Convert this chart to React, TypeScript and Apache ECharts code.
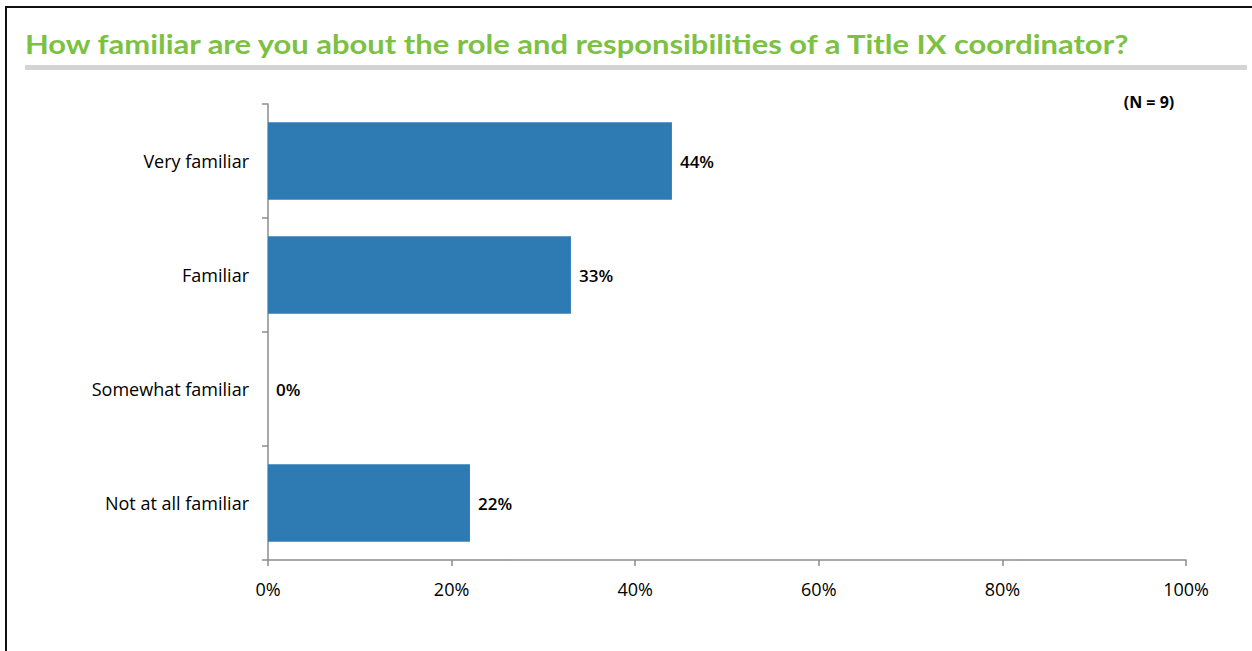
import React, { useEffect, useRef } from "react";
import * as echarts from "echarts";

const categories = ["Very familiar", "Familiar", "Somewhat familiar", "Not at all familiar"];
const values = [44, 33, 0, 22];
const xTicks = [0, 20, 40, 60, 80, 100];
const titleText = "How familiar are you about the role and responsibilities of a Title IX coordinator?";
const noteText = "(N = 9)";

export default function App() {
  const ref = useRef<HTMLDivElement>(null);
  useEffect(() => {
    const chart = echarts.init(ref.current!, null, { renderer: "svg" });
    chart.setOption({
      animation: false,
      backgroundColor: "#ffffff",
      grid: { left: 268, right: 66, top: 104, bottom: 91, containLabel: false },
      xAxis: {
        type: "value",
        min: xTicks[0],
        max: xTicks[xTicks.length - 1],
        interval: 20,
        axisLine: { show: true, lineStyle: { color: "#8c8c8c", width: 1.5 } },
        axisTick: { show: true, length: 6, lineStyle: { color: "#8c8c8c", width: 1.5 } },
        splitLine: { show: false },
        axisLabel: {
          formatter: "{value}%",
          color: "#000",
          fontSize: 18,
          fontFamily: "Open Sans",
          margin: 20,
        },
      },
      yAxis: {
        type: "category",
        data: categories,
        inverse: true,
        axisLine: { show: true, lineStyle: { color: "#8c8c8c", width: 1.5 } },
        axisTick: { show: true, length: 6, lineStyle: { color: "#8c8c8c", width: 1.5 } },
        axisLabel: {
          color: "#000",
          fontSize: 18,
          fontFamily: "Open Sans",
          margin: 19,
        },
      },
      series: [
        {
          type: "bar",
          data: values,
          barWidth: "68%",
          itemStyle: { color: "#2E7BB4" },
          label: {
            show: true,
            position: "right",
            distance: 8,
            formatter: "{c}%",
            color: "#000",
            fontSize: 17,
            fontWeight: 600,
            fontFamily: "Open Sans",
          },
        },
      ],
      graphic: [
        { type: "rect", shape: { x: 5, y: 6, width: 2, height: 651 }, style: { fill: "#111" } },
        { type: "rect", shape: { x: 5, y: 6, width: 1247, height: 2 }, style: { fill: "#111" } },
        { type: "rect", shape: { x: 25, y: 65, width: 1222, height: 5 }, style: { fill: "#d4d4d4" } },
        {
          type: "text",
          x: 25,
          y: 44,
          scaleX: 1.19,
          style: {
            text: titleText,
            fill: "#7DC143",
            font: "bold 26px Lato",
            textVerticalAlign: "middle",
          },
        },
        {
          type: "text",
          x: 1149,
          y: 102,
          style: {
            text: noteText,
            fill: "#000",
            font: "bold 16px 'Open Sans'",
            textAlign: "center",
            textVerticalAlign: "middle",
          },
        },
      ],
    });
    return () => chart.dispose();
  }, []);
  return (
    <div
      ref={ref}
      style={{ position: "fixed", left: 0, top: 0, width: 1252, height: 651 }}
    />
  );
}
